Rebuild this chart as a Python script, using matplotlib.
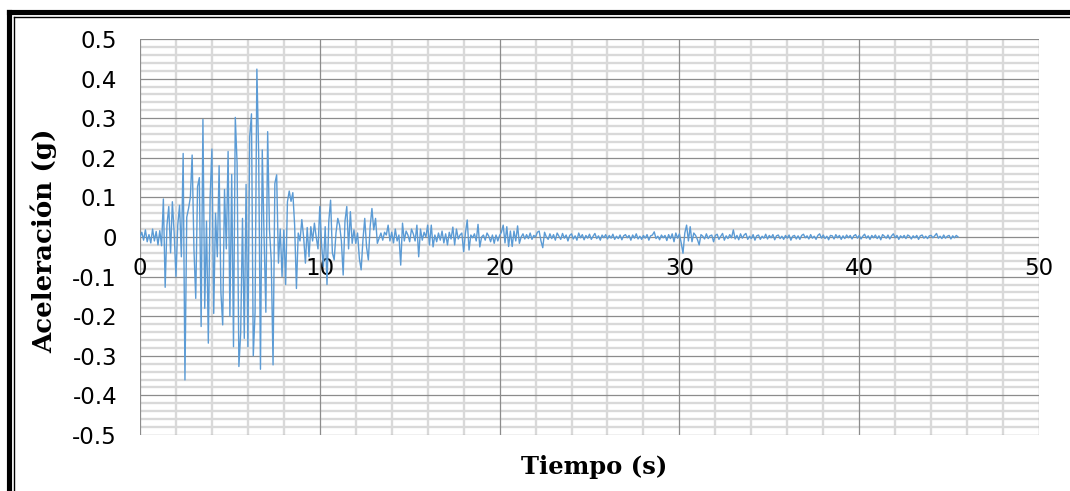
import numpy as np
import matplotlib
matplotlib.use("Agg")
import matplotlib.pyplot as plt
from matplotlib.lines import Line2D

# Ground acceleration record (g), sampled every 0.1 s
dt = 0.1

acc_00_10 = [
    0.0, 0.012, -0.008, 0.018, -0.012, 0.006, -0.015, 0.02, -0.01, 0.014,
    -0.02, 0.016, -0.022, 0.096, -0.127, 0.03, 0.077, -0.04, 0.089, 0.01,
    -0.10, 0.03, 0.08, -0.05, 0.211, -0.361, 0.05, 0.072, 0.10, 0.207,
    -0.03, -0.155, 0.127, 0.15, -0.226, 0.297, -0.18, 0.04, -0.268, 0.10,
    0.222, -0.193, 0.06, -0.05, 0.18, -0.14, -0.222, 0.12, -0.03, 0.216,
    -0.20, 0.158, -0.277, 0.302, 0.186, -0.327, -0.242, 0.047, -0.256, 0.133,
    -0.277, 0.253, 0.311, -0.30, -0.19, 0.424, 0.21, -0.334, 0.22, 0.0,
    -0.19, 0.266, 0.02, -0.06, -0.323, 0.135, 0.157, -0.066, 0.02, -0.10,
    0.018, -0.12, 0.089, 0.116, 0.09, 0.112, 0.03, -0.13, 0.01, -0.01,
    0.044, 0.0, -0.066, 0.024, -0.05, 0.026, -0.01, 0.035, 0.0, -0.03,
]

acc_10_20 = [
    0.077, -0.02, -0.075, 0.026, -0.12, 0.04, 0.093, -0.04, -0.058, 0.01,
    0.047, 0.03, -0.01, -0.096, 0.04, 0.077, -0.03, 0.064, -0.016, 0.018,
    -0.016, 0.01, -0.054, -0.083, -0.007, 0.047, -0.025, -0.058, 0.026, 0.072,
    0.018, 0.047, -0.016, -0.003, 0.01, -0.008, 0.012, 0.005, 0.03, -0.01,
    0.012, -0.015, 0.02, -0.01, 0.005, -0.071, 0.035, -0.01, 0.015, 0.005,
    -0.012, 0.02, 0.008, -0.01, 0.03, -0.05, 0.02, -0.008, 0.012, 0.0,
    0.03, -0.02, 0.03, -0.025, 0.005, -0.012, 0.01, -0.008, 0.015, -0.015,
    0.008, -0.02, 0.012, -0.005, 0.025, -0.02, 0.02, -0.005, 0.005, 0.01,
    -0.037, 0.01, 0.043, -0.033, 0.005, -0.002, 0.008, -0.01, 0.032, -0.025,
    0.0, 0.005, -0.008, 0.01, 0.002, -0.012, 0.005, -0.016, 0.005, -0.01,
]

acc_20_30 = [
    0.004, 0.012, 0.03, -0.015, 0.026, -0.024, 0.015, -0.024, 0.015, -0.01,
    0.028, -0.016, 0.0, 0.008, -0.005, 0.006, -0.004, 0.01, -0.006, 0.004,
    0.0, 0.012, 0.015, -0.01, -0.027, 0.012, 0.0, -0.006, 0.008, -0.004,
    0.006, -0.008, 0.01, 0.002, -0.006, 0.009, -0.003, 0.005, -0.01, 0.004,
    0.008, -0.005, 0.003, -0.008, 0.01, -0.002, 0.006, -0.007, 0.004, -0.003,
    0.007, -0.006, 0.002, 0.009, -0.004, 0.003, -0.008, 0.005, -0.002, 0.006,
    -0.005, 0.004, -0.003, 0.007, -0.006, 0.002, -0.004, 0.005, -0.007, 0.003,
    0.006, -0.002, 0.004, -0.008, 0.005, -0.003, 0.008, -0.005, 0.002, -0.006,
    0.004, -0.003, 0.006, -0.008, 0.003, 0.005, 0.013, -0.004, 0.002, -0.007,
    0.005, -0.002, 0.004, -0.009, 0.006, -0.004, 0.008, -0.012, 0.01, -0.003,
]

acc_30_40 = [
    0.008, -0.015, -0.041, 0.01, 0.03, -0.01, 0.026, -0.012, 0.01, 0.004,
    -0.006, -0.02, 0.006, 0.002, -0.005, 0.008, -0.004, 0.003, 0.005, -0.012,
    0.004, 0.007, -0.006, 0.002, 0.009, -0.008, 0.003, -0.004, 0.006, -0.002,
    0.018, -0.005, 0.004, -0.007, 0.008, -0.003, 0.005, 0.009, -0.006, 0.002,
    -0.004, 0.006, -0.008, 0.003, 0.005, -0.006, 0.002, -0.003, 0.007, -0.005,
    0.004, -0.002, 0.006, -0.007, 0.003, 0.005, -0.004, 0.002, -0.006, 0.004,
    -0.003, 0.005, -0.008, 0.002, 0.004, -0.005, 0.003, -0.006, 0.004, 0.007,
    -0.002, 0.003, -0.005, 0.006, -0.003, 0.002, -0.006, 0.004, 0.008, -0.003,
    0.005, -0.004, 0.002, -0.007, 0.004, 0.003, -0.005, 0.006, -0.002, 0.004,
    -0.006, 0.003, -0.004, 0.005, -0.002, 0.004, -0.005, 0.003, 0.006, -0.003,
]

acc_40_end = [
    0.004, -0.005, 0.002, 0.007, -0.003, 0.003, -0.006, 0.004, -0.002, 0.005,
    -0.004, 0.003, -0.007, 0.006, 0.002, -0.003, 0.005, -0.005, 0.003, 0.008,
    -0.002, 0.004, -0.006, 0.003, -0.002, 0.004, -0.004, 0.005, 0.002, -0.005,
    0.003, -0.002, 0.004, -0.006, 0.003, 0.005, -0.003, 0.002, -0.004, 0.003,
    0.004, -0.002, 0.003, 0.009, -0.003, 0.002, -0.004, 0.005, -0.003, 0.002,
    0.004, -0.005, 0.003, -0.002, 0.004, 0.0,
]

x_ticks = [0, 10, 20, 30, 40, 50]
x_tick_labels = ["0", "10", "20", "30", "40", "50"]
y_ticks = [-0.5, -0.4, -0.3, -0.2, -0.1, 0.0, 0.1, 0.2, 0.3, 0.4, 0.5]
y_tick_labels = ["-0.5", "-0.4", "-0.3", "-0.2", "-0.1", "0",
                 "0.1", "0.2", "0.3", "0.4", "0.5"]

acc = np.concatenate([acc_00_10, acc_10_20, acc_20_30, acc_30_40, acc_40_end])
time = np.arange(len(acc)) * dt

W, H = 1070, 491
fig = plt.figure(figsize=(W / 100, H / 100), dpi=100)
fig.patch.set_facecolor("white")

ax = fig.add_axes([140 / W, 1 - 435 / H, 899 / W, 396 / H])
ax.set_xlim(0, 50)
ax.set_ylim(-0.5, 0.5)

# Grid: light, wide minor lines under thin darker major lines
for xv in np.arange(2, 50, 2):
    if xv % 10:
        ax.axvline(xv, color="#d9d9d9", lw=1.7, zorder=0.5)
for yv in np.arange(-0.48, 0.5, 0.02):
    if abs(round(yv * 10) - yv * 10) > 1e-6:
        ax.axhline(yv, color="#d9d9d9", lw=1.7, zorder=0.5)
for xv in x_ticks:
    ax.axvline(xv, color="#8c8c8c", lw=0.9, zorder=0.6)
for yv in y_ticks:
    ax.axhline(yv, color="#8c8c8c", lw=0.9, zorder=0.6)

ax.plot(time, acc, color="#5B9BD5", lw=1.0, zorder=3)

ax.set_xticks(x_ticks)
ax.set_xticklabels(x_tick_labels)
ax.set_yticks(y_ticks)
ax.set_yticklabels(y_tick_labels)
for sp in ax.spines.values():
    sp.set_visible(False)
ax.spines["bottom"].set_position(("data", 0))
ax.tick_params(axis="x", length=0, pad=14.5, labelsize=16.5)
ax.tick_params(axis="y", length=0, pad=16.5, labelsize=16.5)
for lab in ax.get_xticklabels() + ax.get_yticklabels():
    lab.set_fontfamily("DejaVu Sans")
    lab.set_color("#000000")

fig.text(594 / W, 1 - 467 / H, "Tiempo (s)", ha="center", va="center",
         fontfamily="DejaVu Serif", fontweight="bold", fontsize=17.5)
fig.text(44 / W, 1 - 241 / H, "Aceleración (g)", ha="center", va="center",
         rotation=90, fontfamily="DejaVu Serif", fontweight="bold", fontsize=18.8)

# Double black frame around the chart
def fx(x):
    return x / W

def fy(y):
    return 1 - y / H

for xo, yo, lw in [(9, 12.3, 3.7), (13.8, 17, 1.0)]:
    fig.add_artist(Line2D([fx(xo), fx(W + 10)], [fy(yo), fy(yo)],
                          transform=fig.transFigure, color="black", lw=lw,
                          solid_capstyle="projecting"))
    fig.add_artist(Line2D([fx(xo), fx(xo)], [fy(yo), fy(H + 10)],
                          transform=fig.transFigure, color="black", lw=lw,
                          solid_capstyle="projecting"))

fig.savefig("out.png", dpi=100)
